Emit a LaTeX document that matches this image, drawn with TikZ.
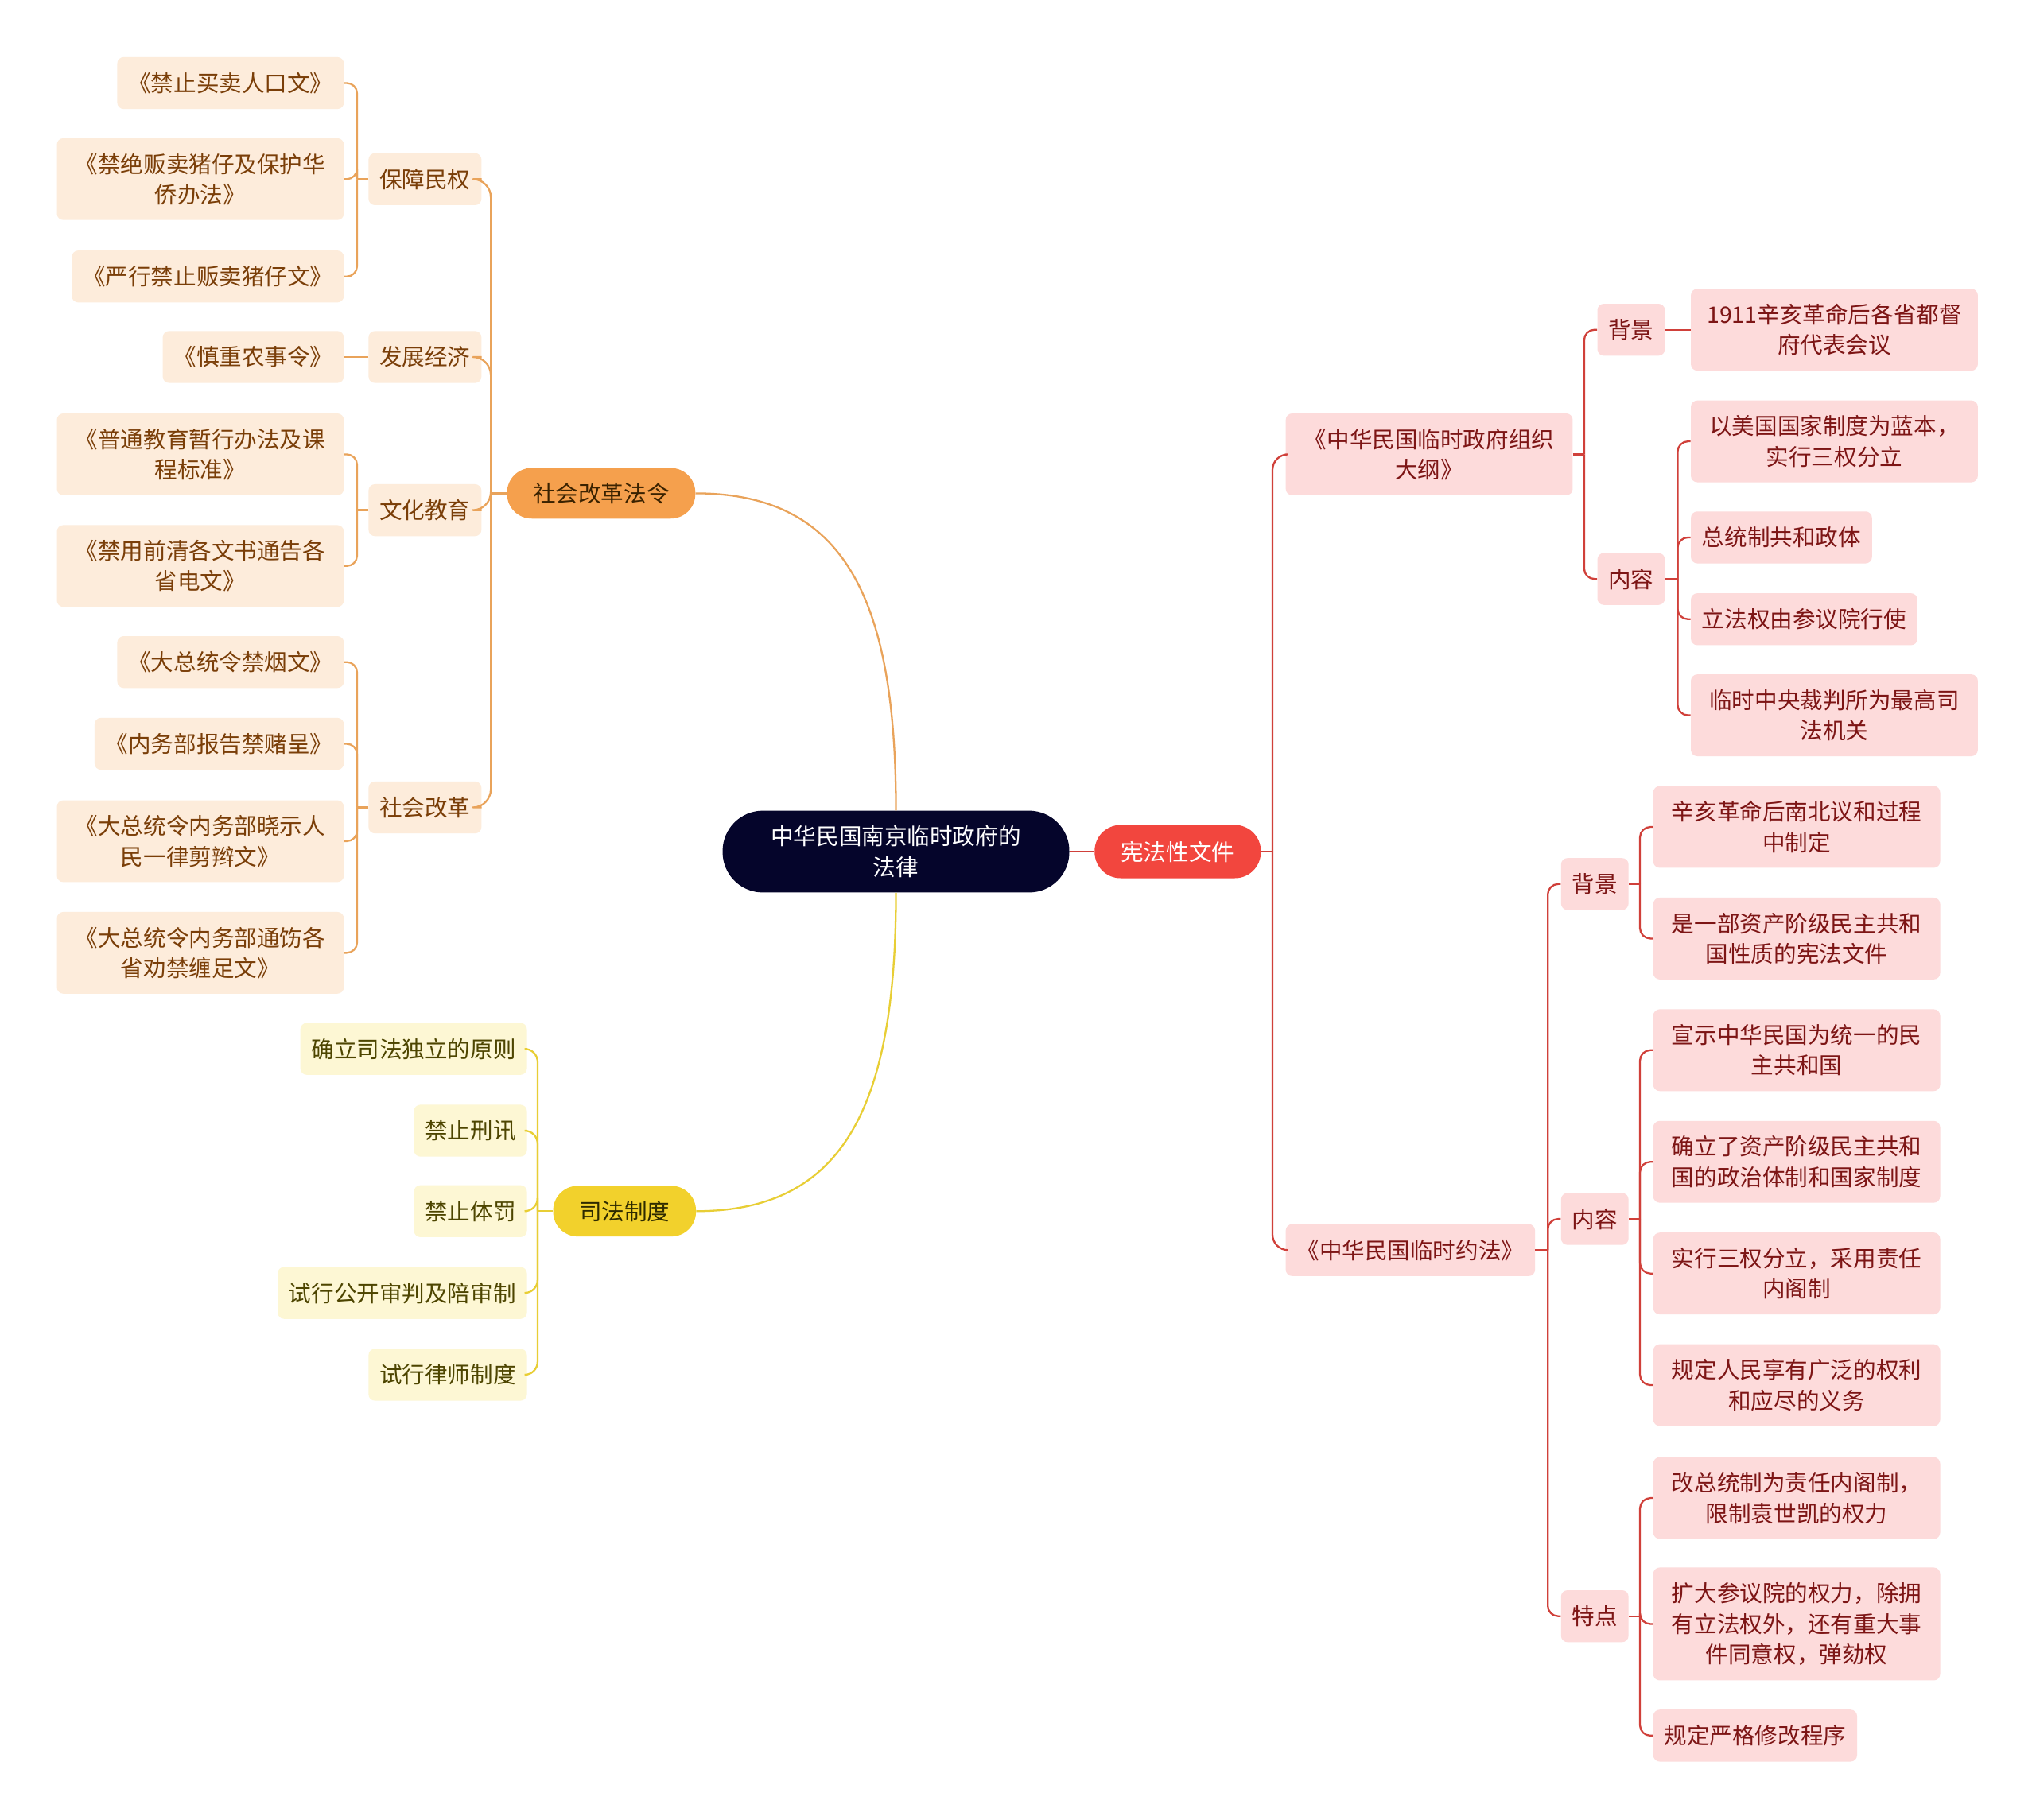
\documentclass[tikz,border=0pt]{standalone}
\usepackage{fontspec}
\newfontfamily\cjk{Noto Sans CJK SC}
\definecolor{rootfill}{HTML}{05052B}
\definecolor{redfill}{HTML}{F2463E}
\definecolor{orangefill}{HTML}{F5A04D}
\definecolor{orangetext}{HTML}{3A2200}
\definecolor{yellowfill}{HTML}{F2D12C}
\definecolor{yellowtext}{HTML}{2E2A00}
\definecolor{peachfill}{HTML}{FDECDB}
\definecolor{peachtext}{HTML}{7A3E08}
\definecolor{ylightfill}{HTML}{FDF7D4}
\definecolor{ylighttext}{HTML}{4D4500}
\definecolor{pinkfill}{HTML}{FDDBDB}
\definecolor{pinktext}{HTML}{7D1515}
\definecolor{olinec}{HTML}{E9A35A}
\definecolor{ylinec}{HTML}{E8CE35}
\definecolor{rlinec}{HTML}{D0403A}
\newcommand\fanR[4]{%
  \coordinate (tmp) at (#3,0);
  \draw[#1] (#2.east) -- (tmp |- #2.east);
  \foreach \c in {#4} {\draw[#1] (tmp |- #2.east) |- (\c.west);}
}
\newcommand\fanL[4]{%
  \coordinate (tmp) at (#3,0);
  \draw[#1] (#2.west) -- (tmp |- #2.west);
  \foreach \c in {#4} {\draw[#1] (tmp |- #2.west) |- (\c.east);}
}
\begin{document}
\begin{tikzpicture}[x=1pt,y=-1pt,
  base/.style={font=\cjk\fontsize{17.5}{23.5}\selectfont, align=center, inner xsep=8.5, inner ysep=0, minimum height=40, rounded corners=5},
  pill/.style={base, rounded corners=19},
  peach/.style={base, fill=peachfill, text=peachtext},
  ylight/.style={base, fill=ylightfill, text=ylighttext},
  pink/.style={base, fill=pinkfill, text=pinktext},
  wide/.style={minimum width=221},
  twol/.style={minimum height=63},
  threel/.style={minimum height=87},
  oline/.style={draw=olinec, line width=1.4, rounded corners=8},
  olinebig/.style={draw=olinec, line width=1.4, rounded corners=14},
  yline/.style={draw=ylinec, line width=1.4, rounded corners=10},
  rline/.style={draw=rlinec, line width=1.4, rounded corners=8},
  rlinebig/.style={draw=rlinec, line width=1.4, rounded corners=12},
]
\useasboundingbox (0,0) rectangle (1568,1402);
\fill[white] (0,0) rectangle (1568,1402);

% centre
\node[pill, fill=rootfill, text=white, minimum width=267, minimum height=63, rounded corners=31] (root) at (690,656) {中华民国南京临时政府的\\法律};
\node[pill, fill=redfill, text=white, minimum width=128, minimum height=41, rounded corners=20] (xf) at (907,656) {宪法性文件};
\node[pill, fill=orangefill, text=orangetext, minimum width=145, minimum height=39] (sh) at (463,380) {社会改革法令};
\node[pill, fill=yellowfill, text=yellowtext, minimum width=110, minimum height=39] (sf) at (481,933) {司法制度};

% orange level 2
\node[peach, anchor=east] (bz) at (371,138) {保障民权};
\node[peach, anchor=east] (fz) at (371,275) {发展经济};
\node[peach, anchor=east] (wh) at (371,393) {文化教育};
\node[peach, anchor=east] (sg) at (371,622) {社会改革};

% orange level 3
\node[peach, anchor=east] (l1) at (265,64) {《禁止买卖人口文》};
\node[peach, wide, twol, anchor=east] (l2) at (265,138) {《禁绝贩卖猪仔及保护华\\侨办法》};
\node[peach, anchor=east] (l3) at (265,213) {《严行禁止贩卖猪仔文》};
\node[peach, anchor=east] (l4) at (265,275) {《慎重农事令》};
\node[peach, wide, twol, anchor=east] (l5) at (265,350) {《普通教育暂行办法及课\\程标准》};
\node[peach, wide, twol, anchor=east] (l6) at (265,436) {《禁用前清各文书通告各\\省电文》};
\node[peach, anchor=east] (l7) at (265,510) {《大总统令禁烟文》};
\node[peach, anchor=east] (l8) at (265,573) {《内务部报告禁赌呈》};
\node[peach, wide, twol, anchor=east] (l9) at (265,648) {《大总统令内务部晓示人\\民一律剪辫文》};
\node[peach, wide, twol, anchor=east] (l10) at (265,734) {《大总统令内务部通饬各\\省劝禁缠足文》};

% yellow children
\node[ylight, anchor=east] (y1) at (406,808) {确立司法独立的原则};
\node[ylight, anchor=east] (y2) at (406,871) {禁止刑讯};
\node[ylight, anchor=east] (y3) at (406,933) {禁止体罚};
\node[ylight, anchor=east] (y4) at (406,996) {试行公开审判及陪审制};
\node[ylight, anchor=east] (y5) at (406,1059) {试行律师制度};

% right: 组织大纲
\node[pink, wide, twol, anchor=west] (dg) at (990,350) {《中华民国临时政府组织\\大纲》};
\node[pink, anchor=west] (bj1) at (1230,254) {背景};
\node[pink, anchor=west] (nr1) at (1230,446) {内容};
\node[pink, wide, twol, anchor=west] (r1) at (1302,254) {1911辛亥革命后各省都督\\府代表会议};
\node[pink, wide, twol, anchor=west] (r2) at (1302,340) {以美国国家制度为蓝本，\\实行三权分立};
\node[pink, anchor=west] (r3) at (1302,414) {总统制共和政体};
\node[pink, anchor=west] (r4) at (1302,477) {立法权由参议院行使};
\node[pink, wide, twol, anchor=west] (r5) at (1302,551) {临时中央裁判所为最高司\\法机关};

% right: 临时约法
\node[pink, anchor=west] (yf) at (990,963) {《中华民国临时约法》};
\node[pink, anchor=west] (bj2) at (1202,681) {背景};
\node[pink, anchor=west] (nr2) at (1202,939) {内容};
\node[pink, anchor=west] (td) at (1202,1245) {特点};
\node[pink, wide, twol, anchor=west] (s1) at (1273,637) {辛亥革命后南北议和过程\\中制定};
\node[pink, wide, twol, anchor=west] (s2) at (1273,723) {是一部资产阶级民主共和\\国性质的宪法文件};
\node[pink, wide, twol, anchor=west] (s3) at (1273,809) {宣示中华民国为统一的民\\主共和国};
\node[pink, wide, twol, anchor=west] (s4) at (1273,895) {确立了资产阶级民主共和\\国的政治体制和国家制度};
\node[pink, wide, twol, anchor=west] (s5) at (1273,981) {实行三权分立，采用责任\\内阁制};
\node[pink, wide, twol, anchor=west] (s6) at (1273,1067) {规定人民享有广泛的权利\\和应尽的义务};
\node[pink, wide, twol, anchor=west] (s7) at (1273,1154) {改总统制为责任内阁制，\\限制袁世凯的权力};
\node[pink, wide, threel, anchor=west] (s8) at (1273,1251) {扩大参议院的权力，除拥\\有立法权外，还有重大事\\件同意权，弹劾权};
\node[pink, anchor=west] (s9) at (1273,1337) {规定严格修改程序};

% connectors from the centre
\draw[draw=olinec, line width=1.4] (root.north) .. controls (690,460) and (650,380) .. (sh.east);
\draw[draw=ylinec, line width=1.4] (root.south) .. controls (690,852) and (650,933) .. (sf.east);
\draw[draw=rlinec, line width=1.4] (root.east) -- (xf.west);

% left orange
\fanL{olinebig}{sh}{378}{bz,fz,wh,sg}
\fanL{oline}{bz}{275}{l1,l2,l3}
\draw[oline] (fz.west) -- (l4.east);
\fanL{oline}{wh}{275}{l5,l6}
\fanL{oline}{sg}{275}{l7,l8,l9,l10}

% left yellow
\fanL{yline}{sf}{414}{y1,y2,y3,y4,y5}

% right red
\fanR{rlinebig}{xf}{980}{dg,yf}
\fanR{rline}{dg}{1220}{bj1,nr1}
\draw[rline] (bj1.east) -- (r1.west);
\fanR{rline}{nr1}{1292}{r2,r3,r4,r5}
\fanR{rline}{yf}{1192}{bj2,nr2,td}
\fanR{rline}{bj2}{1263}{s1,s2}
\fanR{rline}{nr2}{1263}{s3,s4,s5,s6}
\fanR{rline}{td}{1263}{s7,s8,s9}
\end{tikzpicture}
\end{document}
